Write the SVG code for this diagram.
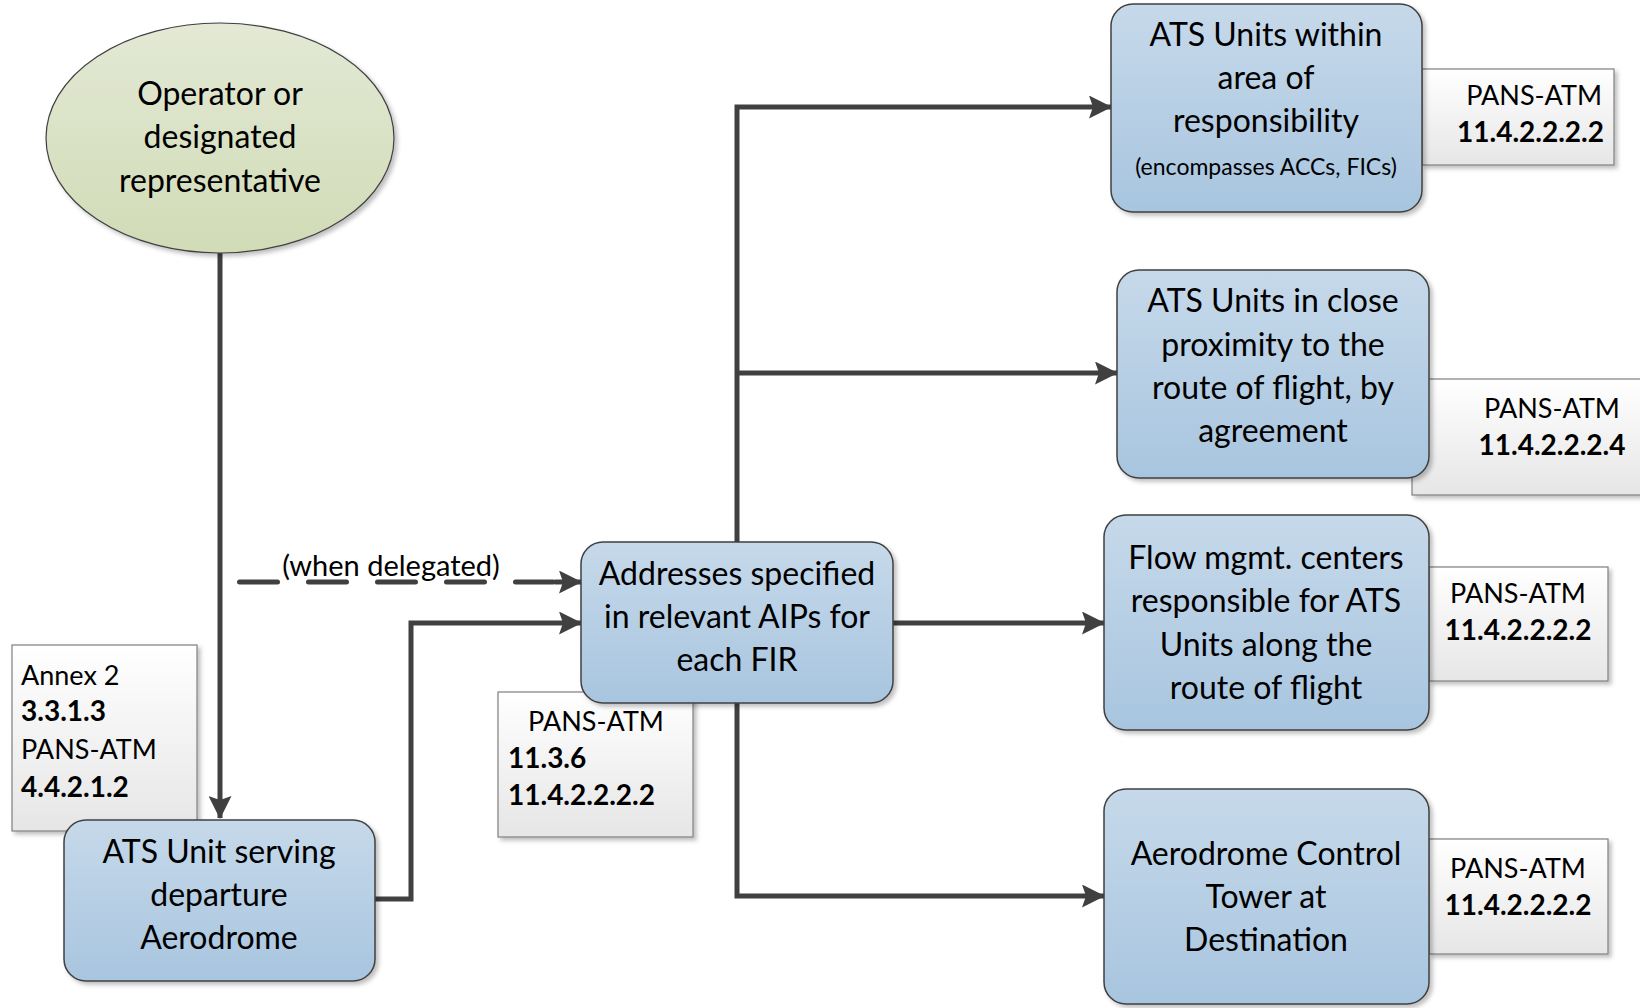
<svg xmlns="http://www.w3.org/2000/svg" width="1640" height="1008" viewBox="0 0 1640 1008">
<defs>
<linearGradient id="gBlue" x1="0" y1="0" x2="0" y2="1">
<stop offset="0" stop-color="#c6d9ea"/>
<stop offset="1" stop-color="#a8c5df"/>
</linearGradient>
<linearGradient id="gGreen" x1="0" y1="0" x2="0" y2="1">
<stop offset="0" stop-color="#e3e9d5"/>
<stop offset="1" stop-color="#d1dbb6"/>
</linearGradient>
<linearGradient id="gNote" x1="0" y1="0" x2="0" y2="1">
<stop offset="0" stop-color="#ffffff"/>
<stop offset="1" stop-color="#e6e6e6"/>
</linearGradient>
<filter id="sh" x="-10%" y="-10%" width="130%" height="130%">
<feDropShadow dx="3" dy="3" stdDeviation="2" flood-color="#000" flood-opacity="0.25"/>
</filter>
<marker id="arr" viewBox="0 0 23 23" refX="22" refY="11.5" markerWidth="23" markerHeight="23" markerUnits="userSpaceOnUse" orient="auto">
<path d="M0,0 L23,11.5 L0,23 L4,11.5 z" fill="#404040"/>
</marker>
</defs>
<style>
.node{fill:url(#gBlue);stroke:#404040;stroke-width:1.5;filter:url(#sh)}
.note{fill:url(#gNote);stroke:#7f7f7f;stroke-width:1.2;filter:url(#sh)}
.t{font-family:Lato,"Open Sans",sans-serif;font-size:32px;fill:#000;text-anchor:middle}
.s{font-family:Lato,"Open Sans",sans-serif;font-size:23px;fill:#000;text-anchor:middle}
.n{font-family:Lato,"Open Sans",sans-serif;font-size:27px;fill:#000}
.b{font-weight:bold;font-size:28px}
.lbl{font-family:Lato,"Open Sans",sans-serif;font-size:29px;fill:#000;text-anchor:middle}
.c{fill:none;stroke:#404040;stroke-width:5}
</style>

<g id="note-annex2">
<rect class="note" x="12" y="645" width="185" height="186"/>
<text class="n" x="21" y="685">Annex 2</text>
<text class="n b" x="21" y="721">3.3.1.3</text>
<text class="n" x="21" y="759">PANS-ATM</text>
<text class="n b" x="21" y="797">4.4.2.1.2</text>
</g>
<g id="note-addresses">
<rect class="note" x="498" y="692" width="195" height="145"/>
<text class="n" x="596" y="731" text-anchor="middle">PANS-ATM</text>
<text class="n b" x="508" y="768">11.3.6</text>
<text class="n b" x="508" y="805">11.4.2.2.2.2</text>
</g>
<g id="note-within">
<rect class="note" x="1422" y="69" width="192" height="96"/>
<text class="n" x="1602" y="105" text-anchor="end">PANS-ATM</text>
<text class="n b" x="1604" y="142" text-anchor="end">11.4.2.2.2.2</text>
</g>
<g id="note-close">
<rect class="note" x="1412" y="379" width="240" height="116"/>
<text class="n" x="1552" y="418" text-anchor="middle">PANS-ATM</text>
<text class="n b" x="1552" y="455" text-anchor="middle">11.4.2.2.2.4</text>
</g>
<g id="note-flow">
<rect class="note" x="1429" y="567" width="179" height="114"/>
<text class="n" x="1518" y="603" text-anchor="middle">PANS-ATM</text>
<text class="n b" x="1518" y="640" text-anchor="middle">11.4.2.2.2.2</text>
</g>
<g id="note-tower">
<rect class="note" x="1429" y="839" width="179" height="115"/>
<text class="n" x="1518" y="878" text-anchor="middle">PANS-ATM</text>
<text class="n b" x="1518" y="915" text-anchor="middle">11.4.2.2.2.2</text>
</g>

<g id="connectors">
<path class="c" d="M220,252 V818" marker-end="url(#arr)"/>
<path class="c" d="M239.5,582 H560" stroke-dasharray="38,31" stroke-linecap="round"/>
<path class="c" d="M555,582 H581" marker-end="url(#arr)"/>
<path class="c" d="M375,899 H411 V623 H581" marker-end="url(#arr)"/>
<path class="c" d="M737,542 V107 H1111" marker-end="url(#arr)"/>
<path class="c" d="M737,373 H1117" marker-end="url(#arr)"/>
<path class="c" d="M893,623 H1104" marker-end="url(#arr)"/>
<path class="c" d="M737,703 V896 H1104" marker-end="url(#arr)"/>
<text class="lbl" x="391" y="576">(when delegated)</text>
</g>

<g id="operator">
<ellipse cx="220" cy="138" rx="174" ry="115" fill="url(#gGreen)" stroke="#404040" stroke-width="1.2" filter="url(#sh)"/>
<text class="t" x="220" y="105">Operator or</text>
<text class="t" x="220" y="148">designated</text>
<text class="t" x="220" y="192">representative</text>
</g>
<g id="departure">
<rect class="node" x="64" y="820" width="311" height="161" rx="22"/>
<text class="t" x="219" y="863">ATS Unit serving</text>
<text class="t" x="219" y="906">departure</text>
<text class="t" x="219" y="949">Aerodrome</text>
</g>
<g id="addresses">
<rect class="node" x="581" y="542" width="312" height="161" rx="22"/>
<text class="t" x="737" y="585">Addresses specified</text>
<text class="t" x="737" y="628">in relevant AIPs for</text>
<text class="t" x="737" y="671">each FIR</text>
</g>
<g id="within">
<rect class="node" x="1111" y="4" width="311" height="208" rx="22"/>
<text class="t" x="1266" y="46">ATS Units within</text>
<text class="t" x="1266" y="89">area of</text>
<text class="t" x="1266" y="132">responsibility</text>
<text class="s" x="1266" y="175">(encompasses ACCs, FICs)</text>
</g>
<g id="close">
<rect class="node" x="1117" y="270" width="312" height="208" rx="22"/>
<text class="t" x="1273" y="312">ATS Units in close</text>
<text class="t" x="1273" y="356">proximity to the</text>
<text class="t" x="1273" y="399">route of flight, by</text>
<text class="t" x="1273" y="442">agreement</text>
</g>
<g id="flow">
<rect class="node" x="1104" y="515" width="325" height="215" rx="22"/>
<text class="t" x="1266" y="569">Flow mgmt. centers</text>
<text class="t" x="1266" y="612">responsible for ATS</text>
<text class="t" x="1266" y="656">Units along the</text>
<text class="t" x="1266" y="699">route of flight</text>
</g>
<g id="tower">
<rect class="node" x="1104" y="789" width="325" height="215" rx="22"/>
<text class="t" x="1266" y="865">Aerodrome Control</text>
<text class="t" x="1266" y="908">Tower at</text>
<text class="t" x="1266" y="951">Destination</text>
</g>
</svg>
